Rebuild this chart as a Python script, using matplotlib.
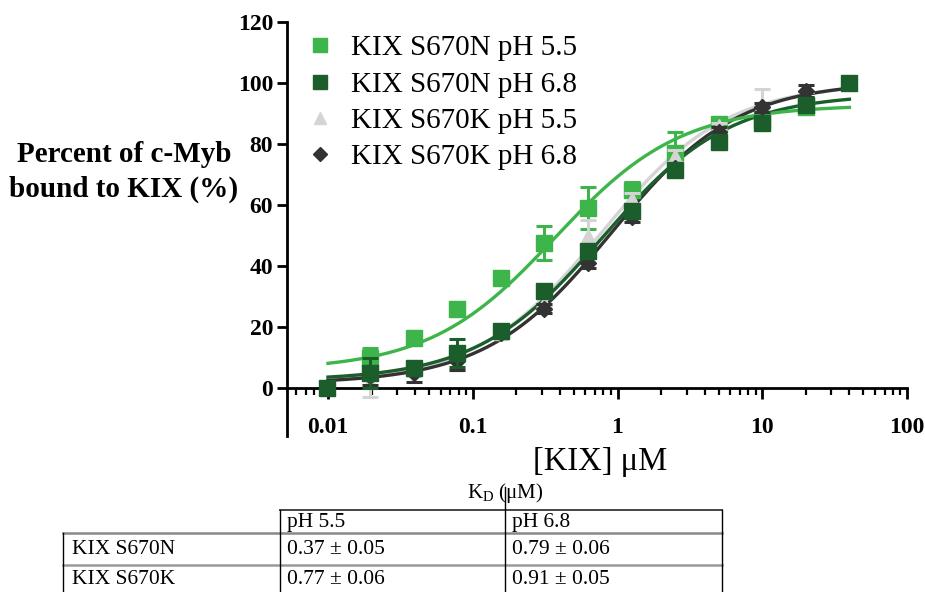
import numpy as np
import matplotlib
matplotlib.use("Agg")
import matplotlib.pyplot as plt
from matplotlib.lines import Line2D
from matplotlib.ticker import LogLocator, NullFormatter, FixedLocator, FixedFormatter

# ---------------- data ----------------
conc = [0.0098, 0.0195, 0.039, 0.078, 0.156, 0.3125, 0.625, 1.25, 2.5, 5, 10, 20, 40]

n_ph55 = [np.nan, 10, 16.5, 26, 36, 47.5, 59, 65, 77, 86.5, 88, 92, np.nan]
n_ph55_err = [0, 3, 1, 1, 1, 5.5, 7, 2.5, 7, 1, 1, 1, 0]

n_ph68 = [0, 5, 6.5, 11.5, 18.7, 31.8, 45, 58, 71.5, 80.7, 87, 92.8, 100]
n_ph68_err = [0, 5, 1.5, 4.5, 1, 1.5, 1.5, 1.5, 1.5, 1.5, 1.5, 1, 0]

k_ph55 = [np.nan, 2, 6, 8, 18, 28, 50, 62, 76, 86, 93, 96, np.nan]
k_ph55_err = [0, 5, 1, 2, 1, 1.5, 5, 2, 2, 1, 5, 1, 0]

k_ph68 = [np.nan, 4, 5, 9, 18, 26, 41, 56, 72, 84, 92, 97.5, np.nan]
k_ph68_err = [0, 3, 3, 3, 1, 1.5, 1.5, 1.5, 1.5, 1.5, 1.5, 2, 0]

# fitted binding-curve parameters (KD from table, bottom/top plateaus)
fit_kd = [0.37, 0.79, 0.77, 0.91]
fit_bottom = [5.8, 2.4, 1.5, 1.4]
fit_top = [92.8, 96.5, 100.0, 100.5]

labels = ["KIX S670N pH 5.5", "KIX S670N pH 6.8", "KIX S670K pH 5.5", "KIX S670K pH 6.8"]
colors = ["#3db54a", "#1b5e2c", "#d4d4d4", "#333333"]
markers = ["s", "s", "^", "D"]

yticks = [0, 20, 40, 60, 80, 100, 120]
xticks = [0.01, 0.1, 1, 10, 100]
xticklabels = ["0.01", "0.1", "1", "10", "100"]

table_cols = ["pH 5.5", "pH 6.8"]
table_rows = ["KIX S670N", "KIX S670K"]
table_vals = [["0.37 ± 0.05", "0.79 ± 0.06"], ["0.77 ± 0.06", "0.91 ± 0.05"]]

# ---------------- figure ----------------
W, H = 925, 592
fig = plt.figure(figsize=(W / 100, H / 100), dpi=100)
serif = ["Liberation Serif", "DejaVu Serif"]
plt.rcParams["font.family"] = serif
plt.rcParams["mathtext.fontset"] = "custom"

ax = fig.add_axes([287 / W, 1 - 436 / H, (907 - 287) / W, (436 - 22) / H])
ax.set_xscale("log")
ax.set_xlim(10 ** (-2 - 41 / 144.75), 100)
ax.set_ylim((388 - 436) / 3.05, 120)

xs = np.logspace(np.log10(0.01), np.log10(40), 300)
series = [n_ph55, n_ph68, k_ph55, k_ph68]
errs = [n_ph55_err, n_ph68_err, k_ph55_err, k_ph68_err]

# curves
for i in [2, 3, 1, 0]:
    yfit = fit_bottom[i] + (fit_top[i] - fit_bottom[i]) * xs / (fit_kd[i] + xs)
    ax.plot(xs, yfit, color=colors[i], lw=2.4, zorder=2 + (0.5 if i == 0 else 0))

# points
order = [0, 2, 3, 1]
msize = [11, 11, 10, 8]
for i in order:
    y = np.array(series[i], dtype=float)
    e = np.array(errs[i], dtype=float)
    ax.errorbar(conc, y, yerr=e, fmt="none", ecolor=colors[i], elinewidth=2.2,
                capsize=6, capthick=2.2, zorder=3 + order.index(i))
    ax.plot(conc, y, linestyle="none", marker=markers[i], color=colors[i],
            markersize=msize[i], zorder=3 + order.index(i))

leg_handles = [Line2D([], [], linestyle="none", marker=markers[i], color=colors[i],
                      markersize=[10, 10, 9, 7][i]) for i in range(4)]
leg = ax.legend(leg_handles, labels, loc="upper left", bbox_to_anchor=(-0.003, 1.018),
                frameon=False, fontsize=21, handletextpad=0.55, labelspacing=0.34,
                handlelength=1.0, borderaxespad=0.3)

# spines
for s in ["top", "right"]:
    ax.spines[s].set_visible(False)
ax.spines["bottom"].set_position(("data", 0))
ax.spines["left"].set_linewidth(2)
ax.spines["bottom"].set_linewidth(2)

ax.xaxis.set_major_locator(FixedLocator(xticks))
ax.xaxis.set_major_formatter(FixedFormatter(xticklabels))
ax.xaxis.set_minor_locator(LogLocator(base=10, subs=np.arange(2, 10), numticks=20))
ax.xaxis.set_minor_formatter(NullFormatter())
ax.tick_params(axis="x", which="major", direction="out", length=8, width=2, pad=13)
ax.tick_params(axis="x", which="minor", direction="out", length=5, width=1.6)
ax.set_yticks(yticks)
ax.tick_params(axis="y", which="major", direction="out", length=7, width=2, pad=3)
for lab in ax.get_xticklabels() + ax.get_yticklabels():
    lab.set_fontweight("bold")
    lab.set_fontsize(17)

fig.text(124 / W, 1 - 172 / H, "Percent of c-Myb\nbound to KIX (%)", ha="center", va="center",
         fontsize=21, fontweight="bold", linespacing=1.38)
fig.text(600 / W, 1 - 462 / H, "[KIX] μM", ha="center", va="center", fontsize=23.5)

# ---------------- table ----------------
def px(x, y):
    return x / W, 1 - y / H

def hline(y, x0, x1, color="black", lw=1.0):
    fig.add_artist(Line2D([x0 / W, x1 / W], [1 - y / H, 1 - y / H], color=color, lw=lw))

def vline(x, y0, y1, color="black", lw=1.0):
    fig.add_artist(Line2D([x / W, x / W], [1 - y0 / H, 1 - y1 / H], color=color, lw=lw))

fig.text(*px(505, 493), "K$_\\mathregular{D}$ (μM)", ha="center", va="center", fontsize=15)
hline(510, 280, 722, color="#444444", lw=1.4)
hline(533, 63, 722, color="#888888", lw=1.8)
hline(565, 63, 722, color="#999999", lw=1.8)
vline(63, 533, 592)
vline(280, 510, 592)
vline(505, 487, 592)
vline(722, 510, 592)

col_x = [287, 512]
for j, c in enumerate(table_cols):
    fig.text(*px(col_x[j], 522), c, ha="left", va="center", fontsize=15.5)
row_y = [550, 579]
for r, name in enumerate(table_rows):
    fig.text(*px(72, row_y[r]), name, ha="left", va="center", fontsize=15.5)
    for j in range(2):
        fig.text(*px(col_x[j], row_y[r]), table_vals[r][j], ha="left", va="center", fontsize=15.5)

fig.savefig("out.png", dpi=100)
